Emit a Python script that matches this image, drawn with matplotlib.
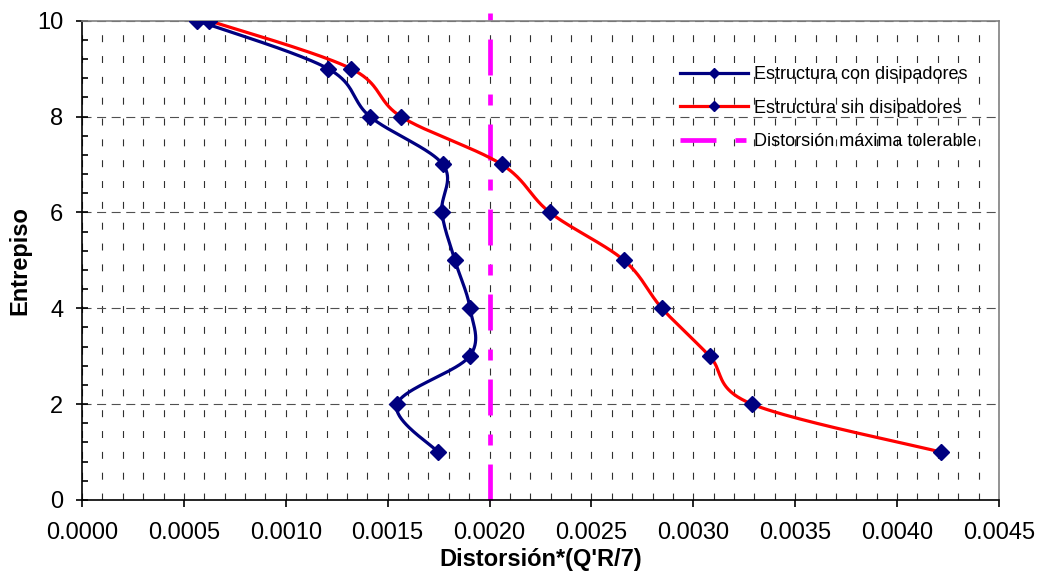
import numpy as np
import matplotlib
matplotlib.use("Agg")
import matplotlib.pyplot as plt
from matplotlib.ticker import MultipleLocator, FormatStrFormatter
from matplotlib.lines import Line2D

plt.rcParams['font.family'] = ['Liberation Sans', 'DejaVu Sans']
plt.rcParams['lines.scale_dashes'] = False

# ---- data ----
entrepiso = [1, 2, 3, 4, 5, 6, 7, 8, 9, 10]
con_disipadores = [0.001747, 0.001546, 0.001902, 0.001904, 0.00183, 0.001766,
                   0.001771, 0.001413, 0.001207, 0.000564]
sin_disipadores = [0.004215, 0.003288, 0.00308, 0.002846, 0.00266, 0.002296,
                   0.00206, 0.001565, 0.00132, 0.000623]
distorsion_max = 0.002
limite_y = [0, 10.17]
x_ticks = [0.0, 0.0005, 0.0010, 0.0015, 0.0020, 0.0025, 0.0030, 0.0035, 0.0040, 0.0045]
y_ticks = [0, 2, 4, 6, 8, 10]
labels = ["Estructura con disipadores", "Estructura sin disipadores",
          "Distorsión máxima tolerable"]

W, H = 1039, 574
fig = plt.figure(figsize=(W / 100, H / 100), dpi=100)
ax = fig.add_axes([82 / W, 1 - 500 / H, (999 - 82) / W, (500 - 20.7) / H])
ax.set_xlim(0, 0.0045)
ax.set_ylim(0, 10)

# grid
ax.set_xticks(x_ticks)
ax.xaxis.set_minor_locator(MultipleLocator(0.0001))
ax.set_yticks(y_ticks)
ax.yaxis.set_minor_locator(MultipleLocator(0.4))
ax.xaxis.set_major_formatter(FormatStrFormatter('%.4f'))

ax.grid(True, which='both', axis='x', color='#303030', lw=0.8, dashes=(5, 10))
ax.grid(True, which='major', axis='y', color='#505050', lw=0.8, dashes=(6.5, 4))
ax.set_axisbelow(True)

for s in ['top', 'right']:
    ax.spines[s].set_color('#808080')
    ax.spines[s].set_linewidth(1.2)
for s in ['left', 'bottom']:
    ax.spines[s].set_color('#000000')
    ax.spines[s].set_linewidth(1.2)

ax.tick_params(axis='y', which='major', direction='inout', length=9, width=1.2,
               labelsize=17, pad=9)
ax.tick_params(axis='y', which='minor', direction='in', length=4, width=1.2)
ax.tick_params(axis='x', which='major', direction='out', length=5, width=1.2,
               labelsize=17, pad=11)
ax.tick_params(axis='x', which='minor', length=0)


def smooth(xs, ys, n=40):
    pts = ax.transData.transform(np.column_stack([xs, ys]))
    P = np.vstack([pts[0], pts, pts[-1]])
    out = []
    for i in range(1, len(P) - 2):
        p0, p1, p2, p3 = P[i - 1], P[i], P[i + 1], P[i + 2]
        c1 = p1 + (p2 - p0) / 6.0
        c2 = p2 - (p3 - p1) / 6.0
        t = np.linspace(0, 1, n)[:, None]
        seg = ((1 - t) ** 3) * p1 + 3 * ((1 - t) ** 2) * t * c1 + 3 * (1 - t) * t ** 2 * c2 + t ** 3 * p2
        out.append(seg if i == 1 else seg[1:])
    out = np.vstack(out)
    d = ax.transData.inverted().transform(out)
    return d[:, 0], d[:, 1]


navy = '#000080'
red = '#FF0000'
mag = '#FF00FF'
mag_dash = (25.9, 13.7, 7.9, 13.7)

sx, sy = smooth(sin_disipadores, entrepiso)
ax.plot(sx, sy, color=red, lw=2.3, zorder=3, solid_capstyle='round')
cx, cy = smooth(con_disipadores, entrepiso)
ax.plot(cx, cy, color=navy, lw=2.3, zorder=4, solid_capstyle='round')

ax.plot(sin_disipadores, entrepiso, ls='none', marker='D', ms=8, color=navy,
        mec=navy, zorder=5)
ax.plot(con_disipadores, entrepiso, ls='none', marker='D', ms=8, color=navy,
        mec=navy, zorder=6)

ax.plot([distorsion_max, distorsion_max], limite_y, color=mag, lw=3.4,
        dashes=mag_dash, zorder=2, clip_on=False, solid_capstyle='butt',
        dash_capstyle='butt')

ax.set_xlabel("Distorsión*(Q'R/7)", fontsize=17, fontweight='bold', labelpad=3)
ax.set_ylabel("Entrepiso", fontsize=17, fontweight='bold', labelpad=4)

handles = [
    Line2D([], [], color=navy, lw=2.3, marker='D', ms=5, mfc=navy, mec=navy),
    Line2D([], [], color=red, lw=2.3, marker='D', ms=5, mfc=navy, mec=navy),
    Line2D([], [], color=mag, lw=3.4, dashes=mag_dash, dash_capstyle='butt'),
]
fig.legend(handles, labels, loc='upper left', bbox_to_anchor=(680 / W, 1 - 66 / H),
           frameon=False, fontsize=13, handlelength=3.77, handletextpad=0.33,
           labelspacing=0.92, borderpad=0, borderaxespad=0, markerscale=1)

fig.savefig('out.png', dpi=100)
